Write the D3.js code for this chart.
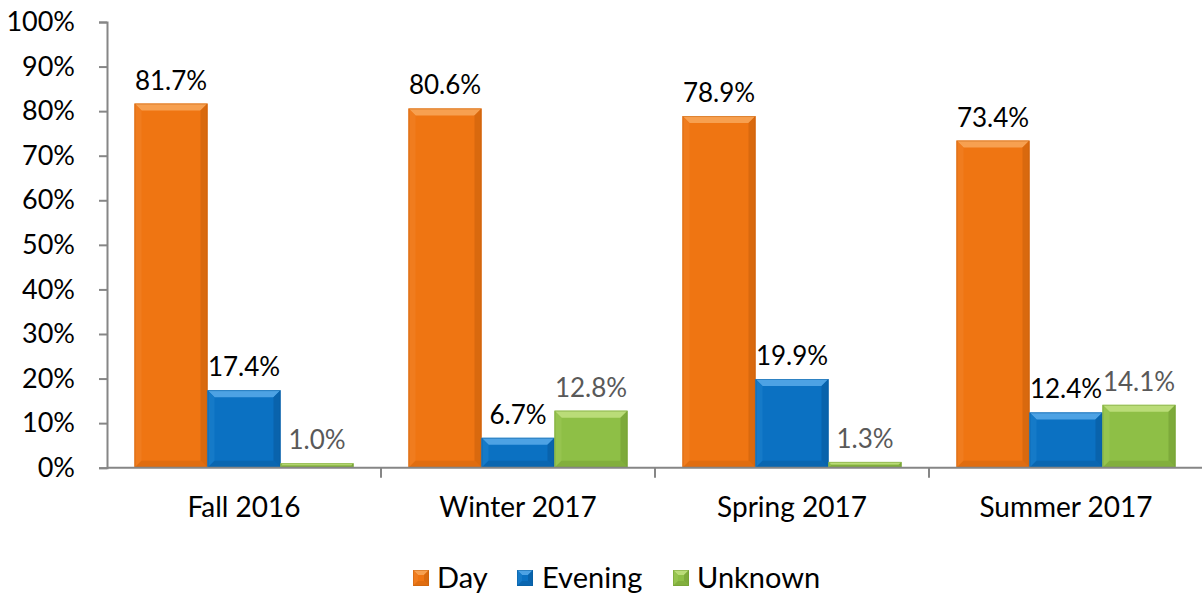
<!DOCTYPE html>
<html>
<head>
<meta charset="utf-8">
<script src="https://cdn.jsdelivr.net/npm/d3@7"></script>
<style>
  html, body { margin: 0; padding: 0; background: #fff; }
  svg { display: block; }
  text { font-family: Lato, "Open Sans", sans-serif; }
</style>
</head>
<body>
<svg id="chart" width="1202" height="594"></svg>
<script>
const categories = ["Fall 2016", "Winter 2017", "Spring 2017", "Summer 2017"];
const seriesNames = ["Day", "Evening", "Unknown"];
const dayValues = [81.7, 80.6, 78.9, 73.4];
const eveningValues = [17.4, 6.7, 19.9, 12.4];
const unknownValues = [1.0, 12.8, 1.3, 14.1];
const yTicks = [0, 10, 20, 30, 40, 50, 60, 70, 80, 90, 100];

const seriesValues = [dayValues, eveningValues, unknownValues];
const colors = {
  Day:     { main: "#EF7512", light: "#F7A050", side: "#F07C1E", dark: "#D9690E", bottom: "#E06D10", line: "#C0600E" },
  Evening: { main: "#0B71C2", light: "#4DA2E4", side: "#157AC8", dark: "#0963AC", bottom: "#0A66B0", line: "#085A9C" },
  Unknown: { main: "#8EBF46", light: "#BADC78", side: "#96C44F", dark: "#7DAA3A", bottom: "#82AF3D", line: "#6E9A30" }
};
const labelColors = { Day: "#000000", Evening: "#000000", Unknown: "#595959" };

const svg = d3.select("#chart");
const margin = { left: 107, right: 0, top: 22, bottom: 126 };
const W = 1202, H = 594;
const plotBottom = 467.7;

const band = 274;
const xCat = d3.scaleBand().domain(categories).range([margin.left, margin.left + band * 4]).padding(0);
const groupPad = 27.5;
const x1 = d3.scaleBand().domain(seriesNames).range([0, band - 2 * groupPad]).padding(0);
const y = d3.scaleLinear().domain([0, 100]).range([plotBottom, margin.top]);

// Y axis
const yAxis = d3.axisLeft(y).tickValues(yTicks).tickFormat(d => d + "%").tickSize(8).tickPadding(24);
const gy = svg.append("g").attr("transform", `translate(${margin.left},0)`).call(yAxis);
gy.select(".domain").attr("stroke", "#868686").attr("stroke-width", 2);
gy.selectAll(".tick line").attr("stroke", "#868686").attr("stroke-width", 2);
gy.selectAll(".tick text").attr("font-size", 27).attr("fill", "#000").attr("font-family", "Lato, sans-serif");

// bars
function bevel(g, xa, xb, ya, yb, c, bMax) {
  const w = xb - xa, h = yb - ya;
  const b = Math.max(0, Math.min(bMax, w / 2, h / 2));
  g.append("rect").attr("x", xa).attr("y", ya).attr("width", w).attr("height", h).attr("fill", c.main);
  if (b > 0.5) {
    g.append("polygon").attr("points", [[xa, ya], [xb, ya], [xb - b, ya + b], [xa + b, ya + b]].join(" ")).attr("fill", c.light);
    g.append("polygon").attr("points", [[xa, ya], [xa + b, ya + b], [xa + b, yb - b], [xa, yb]].join(" ")).attr("fill", c.side);
    g.append("polygon").attr("points", [[xb, ya], [xb - b, ya + b], [xb - b, yb - b], [xb, yb]].join(" ")).attr("fill", c.dark);
    g.append("polygon").attr("points", [[xa, yb], [xa + b, yb - b], [xb - b, yb - b], [xb, yb]].join(" ")).attr("fill", c.bottom);
  } else {
    g.append("rect").attr("x", xa).attr("y", ya).attr("width", w).attr("height", Math.min(1.5, h)).attr("fill", c.light);
  }
  g.append("rect").attr("x", xa + 0.5).attr("y", ya + 0.5).attr("width", Math.max(0, w - 1)).attr("height", Math.max(0, h - 1))
    .attr("fill", "none").attr("stroke", c.line).attr("stroke-width", 1).attr("opacity", 0.45);
}

const barsG = svg.append("g");
categories.forEach((cat, ci) => {
  const gx = xCat(cat) + groupPad;
  seriesNames.forEach((s, si) => {
    const v = seriesValues[si][ci];
    const xa = gx + x1(s), xb = xa + x1.bandwidth();
    const ya = y(v), yb = y(0);
    bevel(barsG, xa, xb, ya, yb, colors[s], 7);
    barsG.append("text")
      .attr("x", (xa + xb) / 2).attr("y", ya - 14)
      .attr("text-anchor", "middle")
      .attr("font-size", 26)
      .attr("fill", labelColors[s])
      .text(v.toFixed(1) + "%");
  });
});

// X axis
const xAxisG = svg.append("g");
xAxisG.append("line").attr("x1", margin.left).attr("x2", W).attr("y1", plotBottom).attr("y2", plotBottom)
  .attr("stroke", "#868686").attr("stroke-width", 2);
categories.forEach((cat, ci) => {
  const xt = xCat(cat);
  if (ci > 0) {
    xAxisG.append("line").attr("x1", xt).attr("x2", xt).attr("y1", plotBottom).attr("y2", plotBottom + 10)
      .attr("stroke", "#868686").attr("stroke-width", 2);
  }
  xAxisG.append("text").attr("x", xt + band / 2).attr("y", 517).attr("text-anchor", "middle")
    .attr("font-size", 28).attr("fill", "#000").text(cat);
});

// Legend
const legendItems = [
  { name: "Day", sx: 413, tx: 437 },
  { name: "Evening", sx: 517, tx: 542 },
  { name: "Unknown", sx: 673, tx: 697 }
];
const lg = svg.append("g");
legendItems.forEach(it => {
  bevel(lg, it.sx, it.sx + 16, 570, 586, colors[it.name], 5);
  lg.append("text").attr("x", it.tx).attr("y", 588).attr("font-size", 29).attr("fill", "#000").text(it.name);
});
</script>
</body>
</html>
